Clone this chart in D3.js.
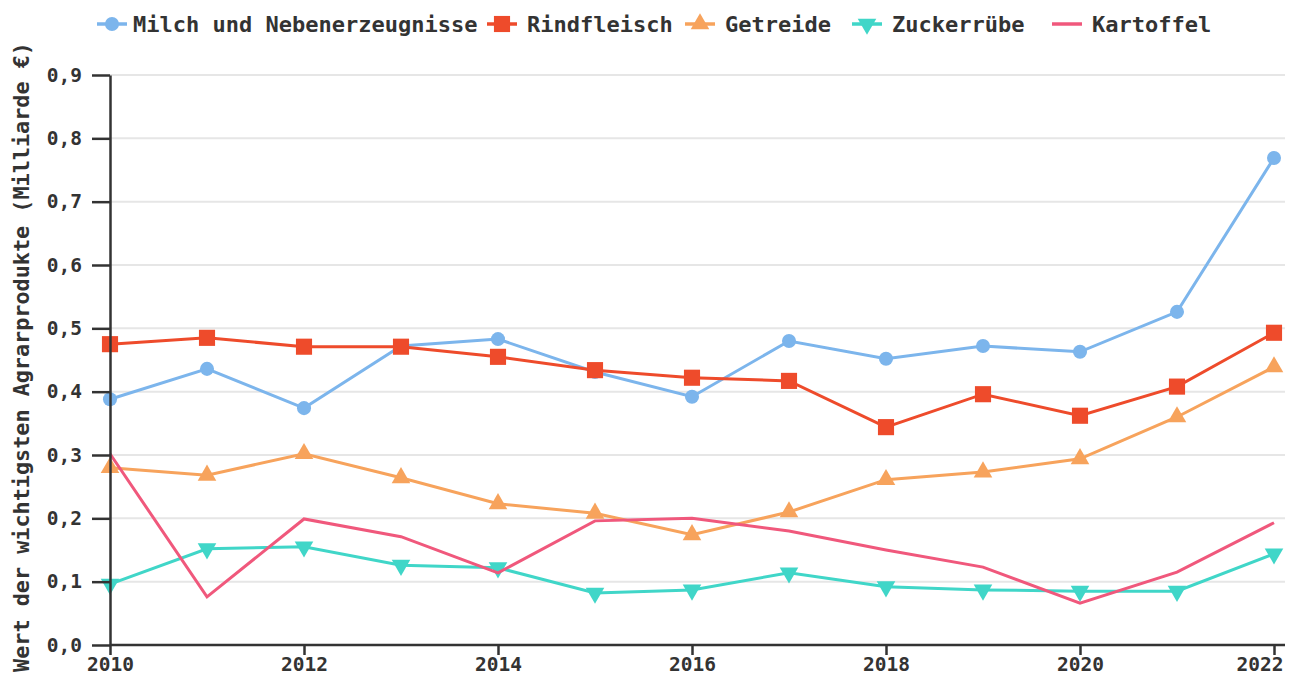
<!DOCTYPE html>
<html>
<head>
<meta charset="utf-8">
<script src="https://cdn.jsdelivr.net/npm/d3@7"></script>
<style>
  body { margin: 0; background: #fff; }
  text { font-family: "DejaVu Sans Mono", monospace; font-weight: bold; fill: #333; }
</style>
</head>
<body>
<script>
// DATA
const years = [2010, 2011, 2012, 2013, 2014, 2015, 2016, 2017, 2018, 2019, 2020, 2021, 2022];
const milch = [0.388, 0.436, 0.374, 0.472, 0.483, 0.431, 0.392, 0.480, 0.452, 0.472, 0.463, 0.526, 0.769];
const rindfleisch = [0.475, 0.485, 0.471, 0.471, 0.455, 0.434, 0.422, 0.417, 0.344, 0.396, 0.362, 0.408, 0.493];
const getreide = [0.280, 0.268, 0.302, 0.264, 0.223, 0.208, 0.174, 0.210, 0.261, 0.273, 0.294, 0.360, 0.439];
const zuckerruebe = [0.096, 0.152, 0.155, 0.126, 0.122, 0.082, 0.087, 0.114, 0.092, 0.087, 0.085, 0.085, 0.144];
const kartoffel = [0.302, 0.076, 0.199, 0.171, 0.114, 0.196, 0.200, 0.180, 0.150, 0.123, 0.066, 0.115, 0.193];
const seriesNames = ["Milch und Nebenerzeugnisse", "Rindfleisch", "Getreide", "Zuckerrübe", "Kartoffel"];
const xTicks = [2010, 2012, 2014, 2016, 2018, 2020, 2022];
const yTicks = [0, 0.1, 0.2, 0.3, 0.4, 0.5, 0.6, 0.7, 0.8, 0.9];
const yTitle = "Wert der wichtigsten Agrarprodukte (Milliarde €)";

const series = [
    {name: seriesNames[0], values: milch, color: "#7cb5ec", symbol: d3.symbolCircle, size: 155, rot: 0},
    {name: seriesNames[1], values: rindfleisch, color: "#ee4b2b", symbol: d3.symbolSquare, size: 260, rot: 0},
    {name: seriesNames[2], values: getreide, color: "#f7a35c", symbol: d3.symbolTriangle, size: 150, rot: 0},
    {name: seriesNames[3], values: zuckerruebe, color: "#40d6c8", symbol: d3.symbolTriangle, size: 150, rot: 180},
    {name: seriesNames[4], values: kartoffel, color: "#f0587c", symbol: null}
];

// DIMENSIONS
const width = 1295, height = 681;
const margin = {top: 75, right: 10, bottom: 36, left: 110};
const plotRight = 1285;

const svg = d3.select("body").append("svg")
    .attr("width", width)
    .attr("height", height);

const x = d3.scaleLinear()
    .domain([2010, 2022])
    .range([margin.left, 1274]);

const y = d3.scaleLinear()
    .domain([0, 0.9])
    .range([height - margin.bottom, margin.top]);

const fmt = d => d3.format(".1f")(d).replace(".", ",");

// GRIDLINES
svg.append("g")
    .selectAll("line")
    .data(yTicks.filter(d => d > 0))
    .join("line")
    .attr("x1", margin.left)
    .attr("x2", plotRight)
    .attr("y1", d => y(d))
    .attr("y2", d => y(d))
    .attr("stroke", "#e6e6e6")
    .attr("stroke-width", 2);

// LINES AND MARKERS
const line = d3.line()
    .x((d, i) => x(years[i]))
    .y(d => y(d));

series.forEach(s => {
    svg.append("path")
        .datum(s.values)
        .attr("d", line)
        .attr("fill", "none")
        .attr("stroke", s.color)
        .attr("stroke-width", 3);
    if (s.symbol) {
        svg.append("g")
            .selectAll("path")
            .data(s.values)
            .join("path")
            .attr("d", d3.symbol().type(s.symbol).size(s.size))
            .attr("transform", (d, i) => `translate(${x(years[i])},${y(d)}) rotate(${s.rot})`)
            .attr("fill", s.color);
    }
});

// AXES
const yAxis = svg.append("g")
    .attr("transform", `translate(${margin.left},0)`)
    .call(d3.axisLeft(y).tickValues(yTicks).tickFormat(fmt).tickSize(18).tickSizeOuter(0).tickPadding(10));
yAxis.select(".domain").attr("stroke", "#333").attr("stroke-width", 2.5);
yAxis.selectAll(".tick line").attr("stroke", "#333").attr("stroke-width", 2.5);
yAxis.selectAll("text").style("font-size", "19.5px");

const xAxis = svg.append("g")
    .attr("transform", `translate(0,${y(0)})`)
    .call(d3.axisBottom(x).tickValues(xTicks).tickFormat(d3.format("d")).tickSize(10).tickSizeOuter(0).tickPadding(2));
xAxis.select(".domain").attr("d", `M${margin.left},0H${plotRight}`).attr("stroke", "#333").attr("stroke-width", 2.5);
xAxis.selectAll(".tick line").attr("stroke", "#333").attr("stroke-width", 2.5);
xAxis.selectAll("text").style("font-size", "19.5px");
// keep the last label inside the picture
xAxis.selectAll(".tick text")
    .filter(d => d === 2022)
    .attr("text-anchor", "end")
    .attr("x", 9);

// Y AXIS TITLE
svg.append("text")
    .attr("transform", "rotate(-90)")
    .attr("x", -357)
    .attr("y", 29)
    .attr("text-anchor", "middle")
    .style("font-size", "21.8px")
    .text(yTitle);

// LEGEND
const legendX = [97, 487, 685, 852, 1052];
const legend = svg.append("g").attr("transform", "translate(0,24)");
series.forEach((s, i) => {
    const g = legend.append("g").attr("transform", `translate(${legendX[i]},0)`);
    g.append("line")
        .attr("x1", 0).attr("x2", 30)
        .attr("stroke", s.color)
        .attr("stroke-width", 3.5);
    if (s.symbol) {
        g.append("path")
            .attr("d", d3.symbol().type(s.symbol).size(s.size))
            .attr("transform", `translate(15,0) rotate(${s.rot})`)
            .attr("fill", s.color);
    }
    g.append("text")
        .attr("x", i === 0 ? 36 : 40)
        .attr("dy", "0.35em")
        .style("font-size", "22px")
        .text(s.name);
});
</script>
</body>
</html>
